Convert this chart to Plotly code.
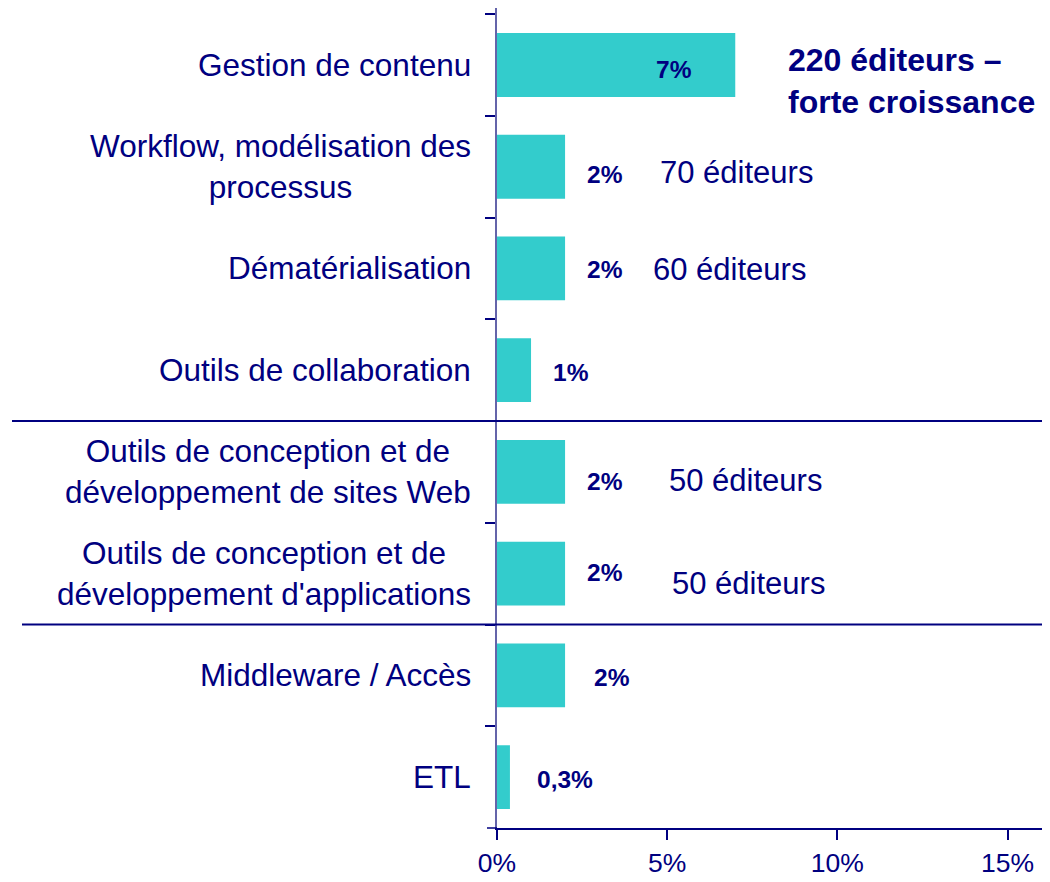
import plotly.graph_objects as go

# ---------------- data ----------------
categories = [
    "Gestion de contenu",
    "Workflow, modélisation des<br>processus",
    "Dématérialisation",
    "Outils de collaboration",
    "Outils de conception et de<br>développement de sites Web",
    "Outils de conception et de<br>développement d'applications",
    "Middleware / Accès",
    "ETL",
]
values = [7.0, 2.0, 2.0, 1.0, 2.0, 2.0, 2.0, 0.38]
value_labels = ["7%", "2%", "2%", "1%", "2%", "2%", "2%", "0,3%"]
note_categories = [categories[1], categories[2], categories[4], categories[5]]
note_texts = ["70 éditeurs", "60 éditeurs", "50 éditeurs", "50 éditeurs"]
highlight_category = categories[0]
highlight_text = "<b>220 éditeurs –<br>forte croissance</b>"
x_tick_vals = [0, 5, 10, 15]
x_tick_text = ["0%", "5%", "10%", "15%"]

# ---------------- style ----------------
NAVY = "#000080"
BAR = "#33CCCC"
FONT = "Arial, Liberation Sans, sans-serif"
PAGE_OFF = 8                     # default body margin of the html page
W, H = 1050 - PAGE_OFF, 882 - PAGE_OFF
PLOT_X0, PLOT_X1, PLOT_Y0, PLOT_Y1 = 497, 1045, 8, 828
L = PLOT_X0 - PAGE_OFF
R = 1050 - PLOT_X1
T = PLOT_Y0 - PAGE_OFF
B = 882 - PLOT_Y1
plot_w = PLOT_X1 - PLOT_X0

# value label placement: (xanchor, xshift px, yshift px)
label_pos = [
    ("center", -61, -4),
    ("left", 20, -8),
    ("left", 20, -1),
    ("left", 20, -2),
    ("left", 20, -10),
    ("left", 20, 1),
    ("left", 27, -2),
    ("left", 25, -2),
]
note_x = [4.72, 4.53, 5.0, 5.09]
note_dy = [-6, -1, -9, -10]

fig = go.Figure()
fig.add_trace(go.Bar(
    x=values, y=categories, orientation="h",
    marker=dict(color=BAR, line=dict(width=0)),
    hoverinfo="skip",
))

annotations = []
for c in categories:
    annotations.append(dict(
        x=0, xref="paper", y=c, yref="y", text=c, showarrow=False,
        xanchor="right", yanchor="middle", align="center", xshift=-24,
        font=dict(family=FONT, size=31.5, color=NAVY),
    ))
for c, v, t, (anc, dx, dy) in zip(categories, values, value_labels, label_pos):
    annotations.append(dict(
        x=v, y=c, text="<b>%s</b>" % t, showarrow=False,
        xanchor=anc, yanchor="middle", xshift=dx, yshift=dy,
        font=dict(family=FONT, size=24.5, color=NAVY),
    ))
for c, t, nx, dy in zip(note_categories, note_texts, note_x, note_dy):
    annotations.append(dict(
        x=nx, y=c, text=t, showarrow=False,
        xanchor="left", yanchor="middle", yshift=dy,
        font=dict(family=FONT, size=31, color=NAVY),
    ))
annotations.append(dict(
    x=8.5, y=highlight_category, text=highlight_text, showarrow=False,
    xanchor="left", yanchor="middle", align="left", yshift=-16,
    font=dict(family=FONT, size=32, color=NAVY),
))

shapes = [
    dict(type="line", xref="paper", yref="y", x0=(12 - PLOT_X0) / plot_w, x1=1.02,
         y0=3.5, y1=3.5, line=dict(color=NAVY, width=2)),
    dict(type="line", xref="paper", yref="y", x0=(22 - PLOT_X0) / plot_w, x1=1.02,
         y0=5.5, y1=5.5, line=dict(color=NAVY, width=2)),
    dict(type="line", xref="paper", yref="paper", x0=-10 / plot_w, x1=0,
         y0=0, y1=0, line=dict(color=NAVY, width=1.5)),
]

fig.update_layout(
    width=W, height=H,
    margin=dict(l=L, r=R, t=T, b=B),
    paper_bgcolor="white", plot_bgcolor="white",
    showlegend=False,
    bargap=0.373,
    annotations=annotations,
    shapes=shapes,
    font=dict(family=FONT, color=NAVY),
    xaxis=dict(
        range=[0, 16.1], showgrid=False, zeroline=False,
        showline=True, linecolor=NAVY, linewidth=1.5,
        ticks="outside", ticklen=10, tickcolor=NAVY, tickwidth=1.5,
        tickvals=x_tick_vals, ticktext=x_tick_text,
        tickfont=dict(family=FONT, size=26.5, color=NAVY),
    ),
    yaxis=dict(
        type="category", categoryorder="array", categoryarray=categories,
        autorange="reversed", showgrid=False, zeroline=False,
        showline=True, linecolor="#6464AA", linewidth=2,
        ticks="outside", ticklen=10, tickcolor=NAVY, tickwidth=1.5,
        tickson="boundaries", showticklabels=False,
    ),
)

fig.write_html("out.html")
